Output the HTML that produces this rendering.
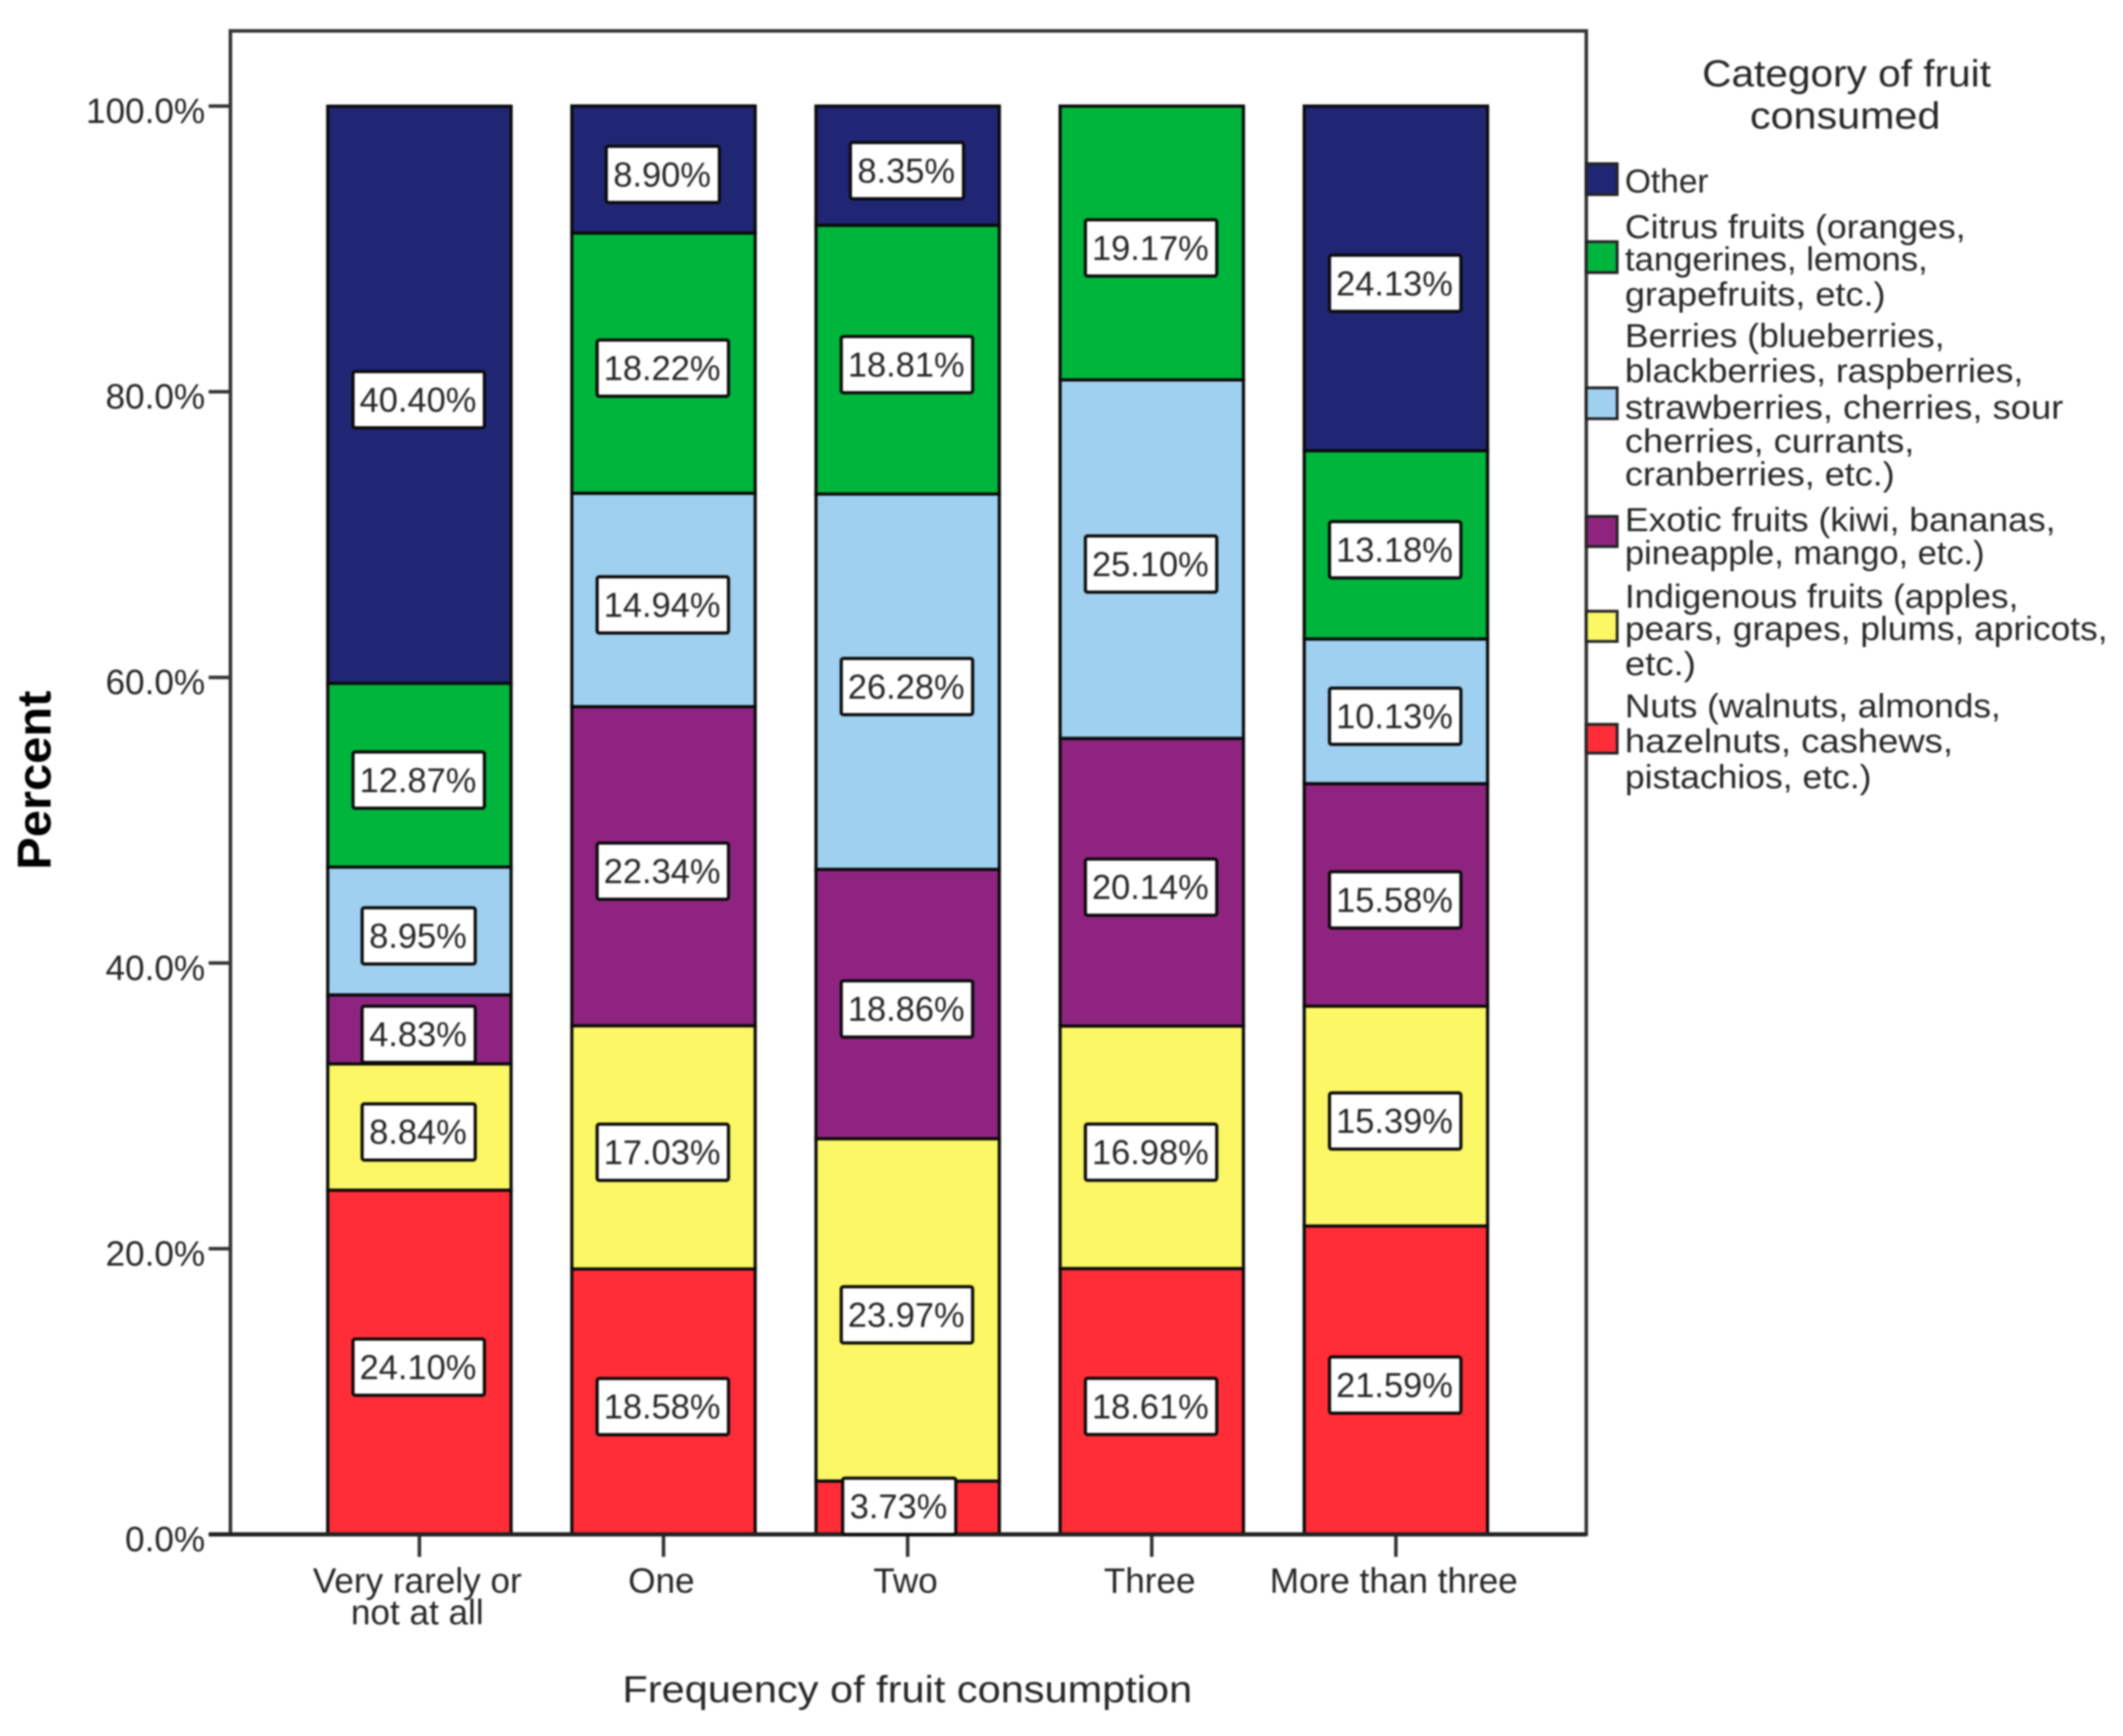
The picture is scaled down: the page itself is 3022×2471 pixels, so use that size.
<!DOCTYPE html>
<html lang="en">
<head>
<meta charset="utf-8">
<title>Category of fruit consumed by frequency of fruit consumption</title>
<style>
  html, body { margin: 0; padding: 0; background: #fff; }
  svg { display: block; filter: blur(1.2px); }
  text { font-family: "Liberation Sans", Arial, sans-serif; fill: #262626; }
</style>
</head>
<body>
<svg id="chart" xmlns="http://www.w3.org/2000/svg" width="3022" height="2471" viewBox="0 0 3022 2471">
  <rect x="0" y="0" width="3022" height="2471" fill="#fff"/>
  <rect x="328" y="44" width="1930" height="2140" fill="#fff" stroke="#333" stroke-width="5"/>
  <g id="marks"></g>
  <text transform="translate(72,1238) rotate(-90)" font-size="68" font-weight="bold" textLength="255" lengthAdjust="spacingAndGlyphs" style="fill:#000">Percent</text>
  <text x="886" y="2423" font-size="54" textLength="811" lengthAdjust="spacingAndGlyphs">Frequency of fruit consumption</text>

  <g>
    <text x="2423" y="123" font-size="54" textLength="411" lengthAdjust="spacingAndGlyphs">Category of fruit</text>
    <text x="2491" y="183" font-size="54" textLength="271" lengthAdjust="spacingAndGlyphs">consumed</text>

    <g>
      <rect x="2258" y="233" width="44" height="44" fill="#202674" stroke="#222" stroke-width="4"/>
      <text x="2313" y="274" font-size="47" textLength="119" lengthAdjust="spacingAndGlyphs">Other</text>
    </g>
    <g>
      <rect x="2258" y="344" width="44" height="44" fill="#00B53C" stroke="#222" stroke-width="4"/>
      <text font-size="47">
        <tspan x="2313" y="339" textLength="485" lengthAdjust="spacingAndGlyphs">Citrus fruits (oranges,</tspan>
        <tspan x="2313" y="385" textLength="431" lengthAdjust="spacingAndGlyphs">tangerines, lemons,</tspan>
        <tspan x="2313" y="435" textLength="371" lengthAdjust="spacingAndGlyphs">grapefruits, etc.)</tspan>
      </text>
    </g>
    <g>
      <rect x="2258" y="552" width="44" height="44" fill="#9FD0F0" stroke="#222" stroke-width="4"/>
      <text font-size="47">
        <tspan x="2313" y="494" textLength="455" lengthAdjust="spacingAndGlyphs">Berries (blueberries,</tspan>
        <tspan x="2313" y="544" textLength="567" lengthAdjust="spacingAndGlyphs">blackberries, raspberries,</tspan>
        <tspan x="2313" y="596" textLength="624" lengthAdjust="spacingAndGlyphs">strawberries, cherries, sour</tspan>
        <tspan x="2313" y="644" textLength="412" lengthAdjust="spacingAndGlyphs">cherries, currants,</tspan>
        <tspan x="2313" y="691" textLength="384" lengthAdjust="spacingAndGlyphs">cranberries, etc.)</tspan>
      </text>
    </g>
    <g>
      <rect x="2258" y="735" width="44" height="43" fill="#8F2480" stroke="#222" stroke-width="4"/>
      <text font-size="47">
        <tspan x="2313" y="756" textLength="613" lengthAdjust="spacingAndGlyphs">Exotic fruits (kiwi, bananas,</tspan>
        <tspan x="2313" y="803" textLength="512" lengthAdjust="spacingAndGlyphs">pineapple, mango, etc.)</tspan>
      </text>
    </g>
    <g>
      <rect x="2258" y="870" width="44" height="43" fill="#FBF765" stroke="#222" stroke-width="4"/>
      <text font-size="47">
        <tspan x="2313" y="865" textLength="560" lengthAdjust="spacingAndGlyphs">Indigenous fruits (apples,</tspan>
        <tspan x="2313" y="911" textLength="687" lengthAdjust="spacingAndGlyphs">pears, grapes, plums, apricots,</tspan>
        <tspan x="2313" y="961" textLength="101" lengthAdjust="spacingAndGlyphs">etc.)</tspan>
      </text>
    </g>
    <g>
      <rect x="2258" y="1031" width="44" height="41" fill="#FF2D37" stroke="#222" stroke-width="4"/>
      <text font-size="47">
        <tspan x="2313" y="1021" textLength="535" lengthAdjust="spacingAndGlyphs">Nuts (walnuts, almonds,</tspan>
        <tspan x="2313" y="1071" textLength="467" lengthAdjust="spacingAndGlyphs">hazelnuts, cashews,</tspan>
        <tspan x="2313" y="1122" textLength="351" lengthAdjust="spacingAndGlyphs">pistachios, etc.)</tspan>
      </text>
    </g>
  </g>
</svg>

<script>
// Chart data
const categories = [["Very rarely or", "not at all"], ["One"], ["Two"], ["Three"], ["More than three"]];
const seriesNames = ["nuts", "indigenous", "exotic", "berries", "citrus", "other"];
const seriesColors = ["#FF2D37", "#FBF765", "#8F2480", "#9FD0F0", "#00B53C", "#202674"];
const nuts = [24.10, 18.58, 3.73, 18.61, 21.59];
const indigenous = [8.84, 17.03, 23.97, 16.98, 15.39];
const exotic = [4.83, 22.34, 18.86, 20.14, 15.58];
const berries = [8.95, 14.94, 26.28, 25.10, 10.13];
const citrus = [12.87, 18.22, 18.81, 19.17, 13.18];
const other = [40.40, 8.90, 8.35, 0, 24.13];
const tickValues = [0, 20, 40, 60, 80, 100];

const allSeries = [nuts, indigenous, exotic, berries, citrus, other];
const NS = "http://www.w3.org/2000/svg";
const marks = document.getElementById("marks");

function yScale(v) { return 2184 - v * 20.33; }
function xScale(i) { return 597 + i * 347.5; }

function make(tag, attrs, parent) {
  const el = document.createElementNS(NS, tag);
  for (const k in attrs) el.setAttribute(k, attrs[k]);
  parent.appendChild(el);
  return el;
}

const BAR_W = 261;

// y axis ticks and labels
tickValues.forEach(function (v) {
  const tick = make("line", { x1: 297, x2: 328, y1: yScale(v), y2: yScale(v), stroke: "#333", "stroke-width": 5 }, marks);
  
  
  const label = make("text", { x: 292, y: yScale(v) + 24, "font-size": 50, "text-anchor": "end" }, marks);
  
  
  label.textContent = v.toFixed(1) + "%";
});

// x axis ticks and category labels
categories.forEach(function (lines, i) {
  const tick = make("line", { x1: xScale(i), x2: xScale(i), y1: 2184, y2: 2216, stroke: "#333", "stroke-width": 5 }, marks);
  
  
  lines.forEach(function (line, j) {
    const label = make("text", { x: xScale(i) - 3, y: 2267 + j * 45, "font-size": 50, "text-anchor": "middle" }, marks);
    
    
    label.textContent = line;
  });
});

// stacked segments
categories.forEach(function (_, i) {
  let cum = 0;
  allSeries.forEach(function (values, s) {
    const v = values[i];
    if (v <= 0) return;
    const top = yScale(cum + v), bottom = yScale(cum);
    const seg = make("rect", { x: xScale(i) - BAR_W / 2, y: top, width: BAR_W, height: bottom - top, fill: seriesColors[s], stroke: "#0a0a0a", "stroke-width": 4.5 }, marks);
    
    
    cum += v;
  });
});

// axis baseline over the bar feet
const baseline = make("line", { x1: 297, x2: 2258, y1: 2184, y2: 2184, stroke: "#222", "stroke-width": 6 }, marks);



// value labels
categories.forEach(function (_, i) {
  let cum = 0;
  allSeries.forEach(function (values, s) {
    const v = values[i];
    if (v <= 0) return;
    const text = v.toFixed(2) + "%";
    const boxW = text.length > 5 ? 187 : 161;
    const boxH = 80;
    let cy = yScale(cum + v / 2) + 7;
    let cx = xScale(i) - 1;
    // a label too low to fit is pushed up and nudged left, as in the source chart
    if (cy + boxH / 2 > 2184) { cy = 2184 - boxH / 2; cx -= 11; }
    const box = make("rect", { x: cx - boxW / 2, y: cy - boxH / 2, width: boxW, height: boxH, rx: 3, fill: "#fff", stroke: "#0a0a0a", "stroke-width": 4.5 }, marks);
    
    
    const label = make("text", { x: cx - 1, y: cy + 17, "font-size": 49, "text-anchor": "middle" }, marks);
    
    
    label.textContent = text;
    cum += v;
  });
});
</script>
</body>
</html>
